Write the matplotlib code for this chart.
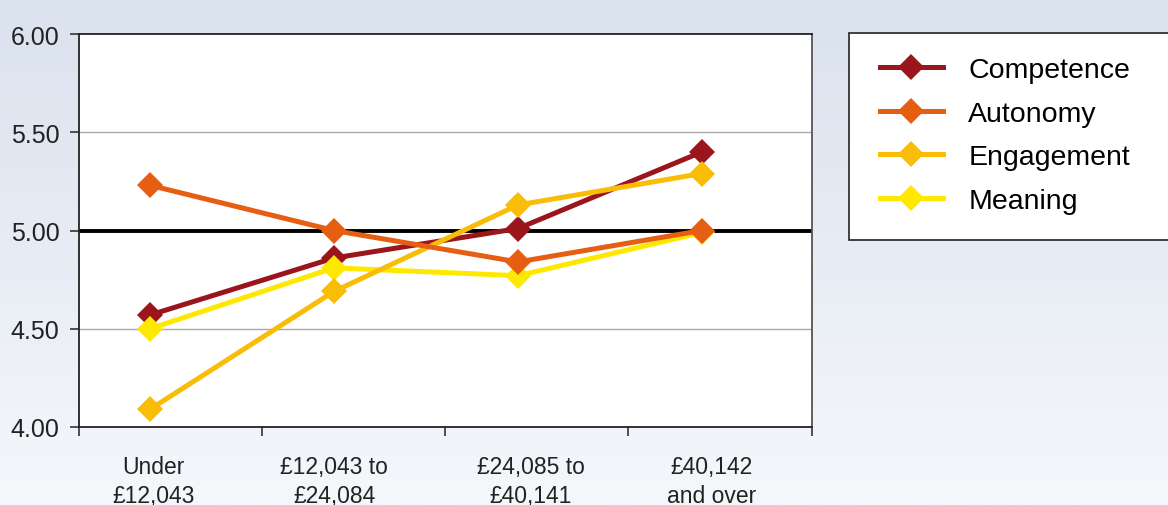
import numpy as np
import matplotlib
matplotlib.use("Agg")
import matplotlib.pyplot as plt
from matplotlib.patches import Rectangle
from matplotlib.colors import LinearSegmentedColormap

categories = ["Under\n£12,043", "£12,043 to\n£24,084", "£24,085 to\n£40,141", "£40,142\nand over"]
competence = [4.57, 4.86, 5.01, 5.40]
autonomy = [5.23, 5.00, 4.84, 5.00]
engagement = [4.09, 4.69, 5.13, 5.29]
meaning = [4.50, 4.81, 4.77, 4.99]
series_names = ["Competence", "Autonomy", "Engagement", "Meaning"]
series_colors = ["#9B161C", "#E55E12", "#F9BD08", "#FFE800"]
series_z = [3.0, 3.4, 3.2, 3.1]
y_ticks = [4.0, 4.5, 5.0, 5.5, 6.0]

plt.rcParams['font.family'] = ['Liberation Sans', 'DejaVu Sans']

fig = plt.figure(figsize=(11.68, 5.06), dpi=100)

# background gradient
bg = fig.add_axes([0, 0, 1, 1], zorder=-10)
grad = np.linspace(0, 1, 256).reshape(-1, 1)
cmap = LinearSegmentedColormap.from_list("bg", ["#DAE2EE", "#F5F7FB"])
bg.imshow(grad, aspect='auto', cmap=cmap, extent=[0, 1, 0, 1])
bg.axis('off')

ax = fig.add_axes([79/1168, 1-428/506, (812-79)/1168, (428-35)/506])
ax.set_facecolor("white")
x = np.arange(len(categories))
for vals, name, col, z in zip([competence, autonomy, engagement, meaning], series_names, series_colors, series_z):
    ax.plot(x, vals, color=col, lw=3.6, marker='D', markersize=13.5, markeredgewidth=0,
            label=name, zorder=z)

ax.set_ylim(4.0, 6.0)
ax.set_xlim(-0.386, 3.598)
ax.set_yticks(y_ticks)
ax.set_yticklabels([f"{v:.2f}" for v in y_ticks], fontsize=18, color="#222222")
for v in [4.5, 5.5]:
    ax.axhline(v, color="#A8A8A8", lw=1.0, zorder=1)
ax.axhline(5.0, color="black", lw=2.8, zorder=2)

ax.set_xticks([-0.386, 0.609, 1.603, 2.598, 3.598])
ax.set_xticklabels([])
ax.set_xticks([0.02, 1.0, 2.07, 3.05], minor=True)
ax.set_xticklabels(categories, minor=True, fontsize=16.5, color="#222222", linespacing=1.35)
ax.tick_params(axis='x', which='minor', length=0, pad=20)
ax.tick_params(axis='x', which='major', length=6.5, width=1.2, color="#333333", direction='out')
ax.tick_params(axis='y', length=6.5, width=1.2, color="#333333", direction='out', pad=7.5)
for s in ['left', 'bottom', 'top']:
    ax.spines[s].set_color("#222222")
    ax.spines[s].set_linewidth(1.3)
ax.spines['right'].set_color("#555555")
ax.spines['right'].set_linewidth(1.3)

# legend box
fig.patches.append(Rectangle((849/1168, 1-241/506), (1168-849)/1168 + 0.01, (241-34)/506,
                             transform=fig.transFigure, facecolor="white", edgecolor="#222222",
                             lw=1.2, zorder=1))
handles, labels = ax.get_legend_handles_labels()
leg = fig.legend(handles, labels, loc='upper left', bbox_to_anchor=(880/1168, 1-58/506),
                 frameon=False, fontsize=20.5, handlelength=2.2, handletextpad=0.9,
                 labelspacing=0.62, borderpad=0, borderaxespad=0, markerscale=1.0)
leg.set_zorder(5)

fig.savefig("out.png", dpi=100)
